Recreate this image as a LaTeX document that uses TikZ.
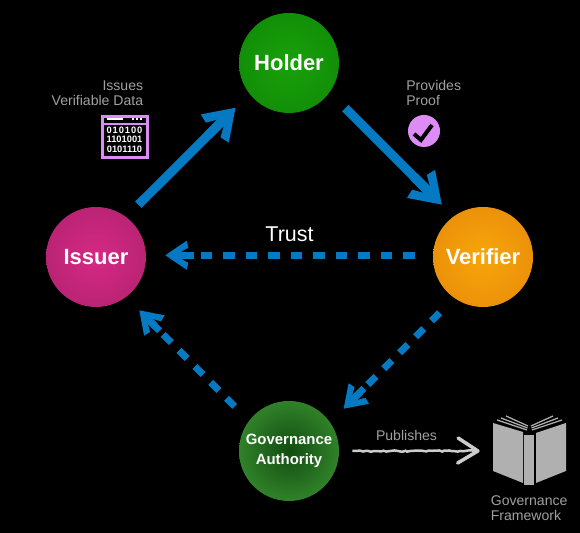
\documentclass[tikz,border=0pt]{standalone}
\usepackage{fontspec}
\setmainfont{Liberation Sans}
\usetikzlibrary{arrows.meta,decorations.pathmorphing}
\definecolor{flowblue}{RGB}{5,122,195}
\definecolor{notegray}{RGB}{160,160,160}
\definecolor{bookgray}{RGB}{176,176,176}
\definecolor{chalkgray}{RGB}{205,205,205}
\definecolor{iconpurple}{RGB}{222,140,245}
\pgfdeclareradialshading{holdershade}{\pgfpoint{0bp}{0bp}}{rgb(0bp)=(.10,.63,.04);rgb(50bp)=(.04,.49,.02)}
\pgfdeclareradialshading{issuershade}{\pgfpoint{0bp}{0bp}}{rgb(0bp)=(.84,.16,.52);rgb(50bp)=(.62,.12,.39)}
\pgfdeclareradialshading{verifiershade}{\pgfpoint{0bp}{0bp}}{rgb(0bp)=(.97,.65,.04);rgb(50bp)=(.88,.49,.04)}
\pgfdeclareradialshading{govshade}{\pgfpoint{0bp}{0bp}}{rgb(0bp)=(.07,.30,.07);rgb(36bp)=(.24,.60,.20);rgb(50bp)=(.24,.60,.20)}
% solid chevron tip with square cut ends and a short stem
\pgfdeclarearrow{
  name=Chevron,
  parameters={\the\pgfarrowlength},
  setup code={
    \pgfarrowssettipend{0pt}
    \pgfarrowssetlineend{-.5\pgfarrowlength}
    \pgfarrowssetvisualbackend{-\pgfarrowlength}
    \pgfarrowssavethe\pgfarrowlength
  },
  drawing code={
    \pgfpathmoveto{\pgfpoint{0pt}{0pt}}
    \pgfpathlineto{\pgfpoint{-.93\pgfarrowlength}{.63\pgfarrowlength}}
    \pgfpathlineto{\pgfpoint{-\pgfarrowlength}{.33\pgfarrowlength}}
    \pgfpathlineto{\pgfpoint{-.42\pgfarrowlength}{0pt}}
    \pgfpathlineto{\pgfpoint{-\pgfarrowlength}{-.33\pgfarrowlength}}
    \pgfpathlineto{\pgfpoint{-.93\pgfarrowlength}{-.63\pgfarrowlength}}
    \pgfpathclose
    \pgfusepathqfill
    \pgfpathrectangle{\pgfpoint{-1.25\pgfarrowlength}{-.15\pgfarrowlength}}{\pgfpoint{.9\pgfarrowlength}{.3\pgfarrowlength}}
    \pgfusepathqfill
  },
  defaults={length=.6cm}
}
\tikzset{
  role/.style={circle,minimum size=2cm,inner sep=0pt,text=white,font=\bfseries\fontsize{12.5}{14}\selectfont,align=center},
  note/.style={text=notegray,font=\fontsize{8}{8.6}\selectfont,inner sep=0pt},
  flow/.style={draw=flowblue,line width=.18cm,-{Chevron[length=.63cm]}},
  weak/.style={draw=flowblue,line width=.14cm,dash pattern=on .23cm off .22cm,-{Chevron[length=.46cm]}}
}
\begin{document}
\begin{tikzpicture}
\fill[black] (0,0) rectangle (11.6,10.66);
\useasboundingbox (0,0) rectangle (11.6,10.66);
% the four roles
\node[role,shading=holdershade] (holder) at (5.78,9.40) {Holder};
\node[role,shading=issuershade] (issuer) at (1.92,5.52) {Issuer};
\node[role,shading=verifiershade] (verifier) at (9.66,5.52) {Verifier};
\node[role,shading=govshade,font=\bfseries\fontsize{8.5}{11}\selectfont] (gov) at (5.78,1.64) {Governance\\Authority};
% book
\node[minimum width=1.48cm,minimum height=1.36cm,inner sep=0pt] (book) at (10.58,1.64) {};
\fill[bookgray] (9.86,2.2) -- (10.46,2.02) -- (10.46,1.0) -- (9.86,1.24) -- cycle;
\fill[bookgray] (11.32,2.2) -- (10.72,2.0) -- (10.72,1.0) -- (11.32,1.24) -- cycle;
\fill[bookgray] (10.48,1.96) rectangle (10.68,.96);
\draw[bookgray,line width=.025cm] (9.94,2.26) -- (10.54,2.06) (10.02,2.30) -- (10.55,2.10) (10.12,2.34) -- (10.56,2.14);
\draw[bookgray,line width=.025cm] (11.24,2.26) -- (10.64,2.06) (11.16,2.30) -- (10.63,2.10) (11.06,2.34) -- (10.62,2.14);
\node[note,align=left,anchor=north west] (bookname) at (9.81,.76) {Governance\\Framework};
% connectors
\draw[flow,shorten <=.34cm,shorten >=.39cm] (issuer.53) -- (holder.218);
\draw[flow,shorten <=.44cm,shorten >=.33cm] (holder.-36) -- (verifier.126);
\draw[weak,shorten <=.36cm,shorten >=.38cm] (verifier.178) -- (issuer.2);
\draw[weak,shorten <=.41cm,shorten >=.38cm] (verifier.235) -- (gov.35);
\draw[weak,shorten <=.4cm,shorten >=.37cm] (gov.143.5) -- (issuer.-53.5);
\coordinate (pubstart) at ([xshift=.26cm]gov.east);
\coordinate (pubend) at ([xshift=-.24cm]book.west);
\draw[chalkgray,line width=.05cm,decorate,decoration={random steps,segment length=1.5pt,amplitude=.4pt},-{Straight Barb[length=.4cm,width=.5cm,line width=.07cm,round=false]}] (pubstart) -- (pubend);
% labels
\node[text=white,font=\fontsize{12.2}{14}\selectfont,inner sep=0pt] (trust) at (5.79,5.98) {Trust};
\node[note] (publishes) at (8.13,1.96) {Publishes};
\node[note,align=right,anchor=north east] (issues) at (2.87,9.06) {Issues\\Verifiable Data};
\node[note,align=left,anchor=north west] (provides) at (8.12,9.06) {Provides\\Proof};
% data icon
\node[draw=iconpurple,line width=.06cm,minimum width=.9cm,minimum height=.82cm,inner sep=0pt] (data) at (2.49,7.91) {};
\draw[white,line width=.03cm] (2.14,8.28) -- (2.46,8.28);
\draw[white,line width=.03cm,dash pattern=on .04cm off .04cm] (2.64,8.28) -- (2.84,8.28);
\draw[iconpurple,line width=.03cm] (2.04,8.18) -- (2.94,8.18);
\node[text=white,font=\bfseries\fontsize{5.3}{5.4}\selectfont,align=center,inner sep=0pt] (bits) at (2.49,7.87) {{\addfontfeature{LetterSpace=10}010100}\\1101001\\0101110};
% proof icon
\node[circle,fill=iconpurple,minimum size=.64cm,inner sep=0pt] (proof) at (8.48,8.04) {};
\draw[black,line width=.08cm] (8.28,7.98) -- (8.42,7.86) -- (8.64,8.16);
\end{tikzpicture}
\end{document}
